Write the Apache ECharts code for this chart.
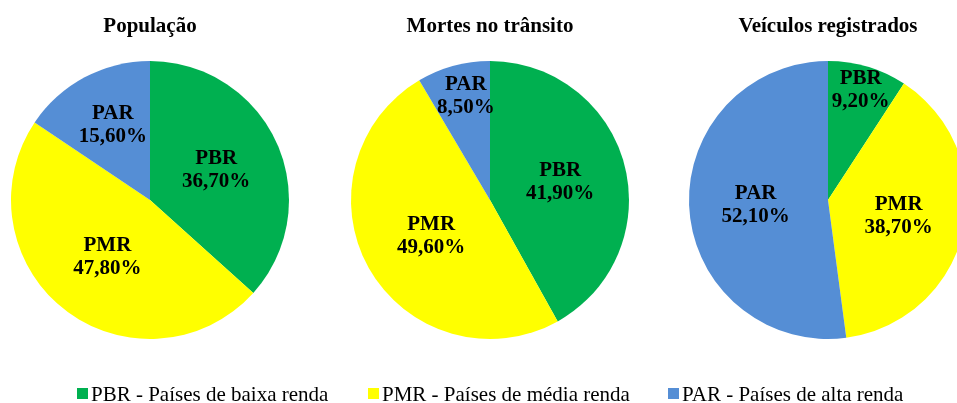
<!DOCTYPE html>
<html>
<head>
<meta charset="UTF-8">
<script type="text/javascript" src="https://cdn.jsdelivr.net/npm/echarts@6/dist/echarts.min.js"></script>
<title>Renda</title>
<style>body{margin:0;background:#fff;}</style>
</head>
<body>
	<div id="main" style="width:957px;height:403px;"></div>
	<script type="text/javascript">
		var categorias = ['PBR - Países de baixa renda', 'PMR - Países de média renda', 'PAR - Países de alta renda'];
		var titulos = ['População', 'Mortes no trânsito', 'Veículos registrados'];
		var populacao = [36.7, 47.8, 15.6];
		var mortes = [41.9, 49.6, 8.5];
		var veiculos = [9.2, 38.7, 52.1];
		var cores = ['#00B050', '#FFFF00', '#558ED5'];

		var fonte = "'Liberation Serif', 'Times New Roman', serif";
		var centros = [150, 490, 828];
		// deslocamento dos rótulos das fatias pequenas (como no Excel)
		var ajustes = [
			[[0, 0], [2, 0], [-3, -11]],
			[[0, 0], [4, 0], [-5, -34]],
			[[12, -40], [0, 0], [0, 0]]
		];

		var myChart = echarts.init(document.getElementById("main"));

		function fatias(valores) {
			var d = [];
			for (var i = 0; i < categorias.length; i++) {
				d.push({name: categorias[i], value: valores[i]});
			}
			return d;
		}

		var series = [];
		var titles = [];
		var dados = [populacao, mortes, veiculos];
		for (var k = 0; k < 3; k++) {
			(function(k){
				titles.push({
					text: titulos[k],
					left: centros[k],
					top: 16,
					padding: 0,
					textAlign: 'center',
					textStyle: {fontFamily: fonte, fontSize: 21, fontWeight: 'bold', color: '#000'}
				});
				series.push({
					type: 'pie',
					center: [centros[k], 200],
					radius: 139,
					startAngle: 90,
					clockwise: true,
					animation: false,
					silent: true,
					data: fatias(dados[k]),
					label: {
						show: true,
						position: 'inside',
						fontFamily: fonte,
						fontSize: 21,
						fontWeight: 'bold',
						lineHeight: 23,
						color: '#000',
						formatter: function(p) {
							return p.name.split(' - ')[0] + '\n' + p.value.toFixed(2).replace('.', ',') + '%';
						}
					},
					labelLayout: function(p) {
						var a = ajustes[k][p.dataIndex];
						return {dx: a[0], dy: a[1]};
					},
					labelLine: {show: false}
				});
			})(k);
		}

		// legenda desenhada à mão (a legenda do echarts ignorava a fonte serifada)
		var legenda = [];
		var posLegenda = [77, 368, 668];
		for (var j = 0; j < 3; j++) {
			legenda.push({
				type: 'rect',
				shape: {x: posLegenda[j], y: 388, width: 11, height: 11},
				style: {fill: cores[j]},
				silent: true
			});
			legenda.push({
				type: 'text',
				x: posLegenda[j] + 14,
				y: 395,
				silent: true,
				style: {
					text: categorias[j],
					fontFamily: 'Liberation Serif',
					fontSize: 21,
					fill: '#000',
					verticalAlign: 'middle'
				}
			});
		}

		var option = {
			color: cores,
			backgroundColor: '#fff',
			textStyle: {fontFamily: fonte},
			title: titles,
			graphic: legenda,
			series: series
		};
		myChart.setOption(option);
	</script>
</body>
</html>
